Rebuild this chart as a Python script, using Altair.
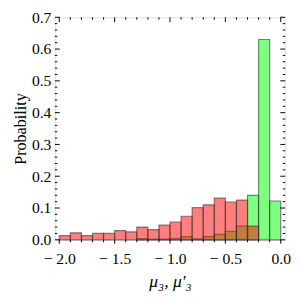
import altair as alt
import pandas as pd

# histogram bins (left edges), width 0.1
bin_start = [-2.0, -1.9, -1.8, -1.7, -1.6, -1.5, -1.4, -1.3, -1.2, -1.1,
             -1.0, -0.9, -0.8, -0.7, -0.6, -0.5, -0.4, -0.3, -0.2, -0.1]
bin_width = 0.1
red_prob = [0.013, 0.022, 0.013, 0.020, 0.020, 0.029, 0.025, 0.040, 0.032, 0.046,
            0.056, 0.074, 0.101, 0.110, 0.131, 0.119, 0.125, 0.043, 0.0, 0.0]
green_prob = [0.0, 0.0, 0.0, 0.0, 0.0, 0.0, 0.0, 0.004, 0.002, 0.002,
              0.004, 0.010, 0.003, 0.010, 0.017, 0.027, 0.043, 0.140, 0.630, 0.122]

x_major = [-2.0, -1.5, -1.0, -0.5, 0.0]
x_minor = [-1.9, -1.8, -1.7, -1.6, -1.4, -1.3, -1.2, -1.1, -0.9, -0.8,
           -0.7, -0.6, -0.4, -0.3, -0.2, -0.1]
y_major = [0.0, 0.1, 0.2, 0.3, 0.4, 0.5, 0.6, 0.7]
y_minor = [0.02, 0.04, 0.06, 0.08, 0.12, 0.14, 0.16, 0.18, 0.22, 0.24, 0.26, 0.28,
           0.32, 0.34, 0.36, 0.38, 0.42, 0.44, 0.46, 0.48, 0.52, 0.54, 0.56, 0.58,
           0.62, 0.64, 0.66, 0.68]

W, H = 236, 228
FONT = "Liberation Serif"

bars = pd.DataFrame({
    "start": bin_start * 2,
    "end": [s + bin_width for s in bin_start] * 2,
    "p": red_prob + green_prob,
    "series": ["red"] * len(bin_start) + ["green"] * len(bin_start),
})
bars = bars[bars["p"] > 0]

xs = alt.Scale(domain=[-2.04, 0.04], nice=False, zero=False)
ys = alt.Scale(domain=[0, 0.7], nice=False)

xaxis = alt.Axis(values=x_major, format=".1f", ticks=False, domain=False, grid=False,
                 labelExpr="replace(datum.label, '−', '− ')",
                 labelFont=FONT, labelFontSize=16, labelColor="black", labelPadding=11,
                 title="μ₃, μ′₃", titleFont=FONT, titleFontSize=18, titleFontStyle="italic",
                 titleFontWeight="normal", titleColor="black", titlePadding=7)
yaxis = alt.Axis(values=y_major, format=".1f", ticks=False, domain=False, grid=False,
                 labelFont=FONT, labelFontSize=16, labelColor="black", labelPadding=4,
                 title="Probability", titleFont=FONT, titleFontSize=16.5,
                 titleFontWeight="normal", titleColor="black", titlePadding=3)

X = lambda f: alt.X(f, scale=xs, axis=xaxis, title="μ₃, μ′₃")
Y = lambda f: alt.Y(f, scale=ys, axis=yaxis, title="Probability")

green = alt.Chart(bars).transform_filter(alt.datum.series == "green").mark_bar(
    fill="#00ff00", fillOpacity=0.5, stroke="#333333", strokeOpacity=0.6, strokeWidth=1.2
).encode(x=X("start:Q"), x2="end:Q", y=Y("p:Q"), y2=alt.datum(0))
red = alt.Chart(bars).transform_filter(alt.datum.series == "red").mark_bar(
    fill="#ff0000", fillOpacity=0.5, stroke="#333333", strokeOpacity=0.6, strokeWidth=1.2
).encode(x=X("start:Q"), x2="end:Q", y=Y("p:Q"), y2=alt.datum(0))

xt_major = pd.DataFrame({"v": x_major})
xt_minor = pd.DataFrame({"v": x_minor})
yt_major = pd.DataFrame({"v": y_major})
yt_minor = pd.DataFrame({"v": y_minor})

tick_style = dict(color="black", strokeWidth=1)

bottom_major = alt.Chart(xt_major).mark_rule(**tick_style).encode(
    x=X("v:Q"), y=alt.value(H), y2=alt.value(H + 4))
bottom_minor = alt.Chart(xt_minor).mark_rule(**tick_style).encode(
    x=X("v:Q"), y=alt.value(H), y2=alt.value(H + 2.5))
top_major = alt.Chart(xt_major).mark_rule(**tick_style).encode(
    x=X("v:Q"), y=alt.value(0), y2=alt.value(5))
top_minor = alt.Chart(xt_minor).mark_rule(**tick_style).encode(
    x=X("v:Q"), y=alt.value(0), y2=alt.value(2.5))
left_major = alt.Chart(yt_major).mark_rule(**tick_style).encode(
    y=Y("v:Q"), x=alt.value(0), x2=alt.value(5))
left_minor = alt.Chart(yt_minor).mark_rule(**tick_style).encode(
    y=Y("v:Q"), x=alt.value(0), x2=alt.value(2.5))
right_major = alt.Chart(yt_major).mark_rule(**tick_style).encode(
    y=Y("v:Q"), x=alt.value(W), x2=alt.value(W - 5))
right_minor = alt.Chart(yt_minor).mark_rule(**tick_style).encode(
    y=Y("v:Q"), x=alt.value(W), x2=alt.value(W - 2.5))

chart = alt.layer(
    green, red, bottom_major, bottom_minor, top_major, top_minor,
    left_major, left_minor, right_major, right_minor
).properties(
    width=W, height=H,
    autosize=alt.AutoSizeParams(type="none"),
    padding={"left": 48, "top": 6, "right": 7, "bottom": 51},
).configure_view(stroke="black", strokeWidth=1.2).configure(background="white")

chart.save("out.html", embed_options={"renderer": "svg", "actions": False})
